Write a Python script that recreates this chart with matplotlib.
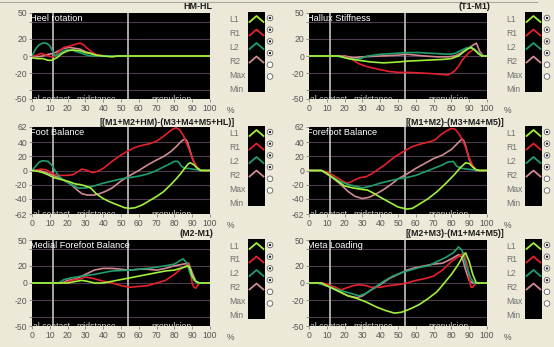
import matplotlib.pyplot as plt
from matplotlib.patches import Rectangle, Circle
from matplotlib.lines import Line2D
import matplotlib.transforms as mtrans
plt.switch_backend('Agg')

plt.rcParams['font.family'] = ['Liberation Sans', 'DejaVu Sans']

W, H = 554, 347
BG = '#ece9d8'
COLORS = {'L1': '#a2f03c', 'R1': '#e6202c', 'L2': '#1f9e6e', 'R2': '#d08a92'}
SERIES = ['L1', 'R1', 'L2', 'R2', 'Max', 'Min']
XTICKS = [0, 10, 20, 30, 40, 50, 60, 70, 80, 90, 100]
PHASES = [(0.5, 'al contact'), (25, 'midstance'), (67, 'propulsion')]
PHASE_LINES = [12, 54]

# (x %, value)
HEEL_L1 = [(0, -2), (3, -3), (6, -3), (9, -5), (11, -5), (14, -2), (17, 3), (20, 6), (23, 7), (27, 6),
           (30, 4), (33, 3), (36, 1), (40, 0), (45, -1), (48, 0), (100, 0)]
HEEL_R1 = [(0, 0), (3, 1), (5, 3), (8, 1), (11, -1), (13, 0), (15, 5), (18, 10), (22, 12), (25, 14),
           (27, 15), (29, 13), (31, 9), (34, 4), (37, 1), (42, 0), (100, 0)]
HEEL_L2 = [(0, 0), (2, 8), (4, 13), (6, 15), (8, 15), (10, 12), (12, 4), (13, 0), (15, 2), (17, 5),
           (19, 7), (22, 7), (25, 5), (28, 3), (31, 1), (34, 0), (100, 0)]
HEEL_R2 = [(0, 0), (3, -1), (6, 0), (9, 2), (12, 3), (15, 6), (18, 9), (21, 10), (24, 9), (27, 8),
           (30, 5), (33, 3), (36, 1), (40, 0), (100, 0)]

HALLUX_L1 = [(0, 0), (17, 0), (22, -3), (28, -5), (35, -7), (42, -8), (50, -7), (55, -6), (65, -5),
             (75, -4), (80, -3), (84, 0), (87, 5), (89, 8), (91, 10), (93, 7), (95, 3), (97, 0), (100, 0)]
HALLUX_R1 = [(0, 0), (18, 0), (22, -2), (25, -5), (28, -9), (32, -12), (38, -15), (45, -18), (50, -19),
             (55, -19), (65, -20), (72, -21), (78, -22), (80, -20), (82, -17), (84, -12), (86, -5),
             (88, 0), (90, 4), (92, 7), (93, 8), (95, 4), (97, 0), (100, 0)]
HALLUX_L2 = [(0, 0), (15, 0), (20, -2), (25, -4), (29, -3), (33, 0), (40, 2), (48, 3), (55, 4), (62, 4),
             (70, 3), (78, 2), (82, 3), (85, 6), (88, 9), (90, 10), (92, 9), (94, 6), (96, 2), (98, 0),
             (100, 0)]
HALLUX_R2 = [(0, 0), (20, 0), (25, -2), (30, -1), (40, 0), (50, 1), (55, 2), (60, 1), (65, 0), (72, -1),
             (78, -1), (82, 0), (85, 3), (88, 7), (91, 11), (94, 15), (95, 10), (96, 5), (98, 0), (100, 0)]

FOOT_L1 = [(0, 0), (3, -1), (6, -3), (9, -6), (12, -10), (15, -12), (18, -14), (21, -16), (24, -19),
           (27, -20), (30, -22), (33, -25), (36, -33), (40, -40), (44, -45), (48, -49), (52, -53),
           (55, -54), (58, -53), (62, -49), (66, -43), (70, -37), (74, -30), (78, -20), (81, -12),
           (84, -3), (86, 4), (88, 10), (89, 11), (91, 8), (93, 3), (95, 0), (100, 0)]
FOOT_R1 = [(0, 0), (3, 1), (5, 2), (8, 1), (10, -2), (13, -6), (16, -7), (20, -7), (23, -6), (25, -3),
           (28, 2), (30, 1), (32, -1), (34, -3), (37, -1), (40, 3), (43, 9), (46, 15), (50, 22), (54, 28),
           (58, 33), (62, 36), (66, 38), (70, 42), (73, 47), (76, 53), (79, 59), (81, 61), (83, 58),
           (85, 50), (87, 38), (89, 25), (91, 12), (93, 4), (95, 0), (100, 0)]
FOOT_L2 = [(0, 0), (2, 6), (4, 12), (6, 14), (9, 13), (11, 8), (13, 0), (15, -8), (18, -14), (22, -20),
           (26, -25), (30, -25), (35, -22), (40, -18), (45, -15), (50, -12), (55, -10), (60, -8),
           (65, -5), (70, 0), (73, 4), (77, 9), (80, 13), (82, 13), (84, 6), (86, 3), (88, 3), (90, 2),
           (93, 1), (95, 0), (100, 0)]
FOOT_R2 = [(0, 0), (4, 0), (7, -2), (10, -5), (15, -10), (19, -15), (22, -20), (25, -27), (28, -33),
           (31, -35), (35, -35), (38, -33), (41, -30), (45, -25), (50, -15), (55, -7), (60, 0), (65, 8),
           (70, 15), (74, 20), (78, 27), (81, 34), (84, 42), (86, 45), (87, 42), (88, 35), (90, 18),
           (92, 6), (94, 0), (100, 0)]

FORE_L1 = [(0, 0), (7, 0), (10, -4), (12, -8), (16, -15), (20, -22), (25, -25), (30, -27), (33, -28),
           (36, -32), (40, -38), (45, -45), (50, -52), (55, -55), (58, -54), (62, -48), (67, -40),
           (72, -30), (77, -18), (82, -5), (85, 4), (88, 11), (90, 10), (92, 5), (94, 1), (96, 0), (100, 0)]
FORE_R1 = [(0, 0), (7, 0), (10, -2), (13, -6), (17, -12), (21, -18), (23, -17), (26, -13), (29, -10),
           (32, -9), (35, -5), (38, 0), (43, 9), (48, 19), (53, 27), (58, 34), (63, 38), (68, 41),
           (71, 44), (74, 51), (77, 56), (80, 60), (82, 59), (84, 53), (86, 45), (88, 33), (90, 18),
           (92, 7), (94, 1), (96, 0), (100, 0)]
FORE_L2 = [(0, 0), (7, 0), (10, -4), (13, -9), (17, -15), (22, -20), (27, -23), (30, -25), (35, -22),
           (40, -18), (45, -15), (50, -12), (55, -10), (60, -7), (65, -2), (70, 3), (75, 8), (78, 12),
           (81, 13), (83, 6), (86, 3), (89, 2), (92, 1), (95, 0), (100, 0)]
FORE_R2 = [(0, 0), (7, 0), (10, -5), (13, -10), (17, -18), (22, -30), (26, -37), (30, -40), (34, -38),
           (38, -33), (42, -27), (46, -20), (50, -12), (55, -5), (60, 3), (65, 10), (70, 17), (75, 22),
           (80, 30), (84, 40), (86, 45), (87, 42), (88, 35), (90, 16), (92, 5), (94, 0), (100, 0)]

MEDIAL_L1 = [(0, 0), (20, 0), (25, 2), (28, 3), (31, 2), (35, 0), (40, 0), (45, 2), (50, 4), (55, 6),
             (60, 8), (65, 10), (70, 12), (75, 14), (80, 15), (85, 18), (88, 20), (89, 15), (90, 8),
             (92, 2), (94, 0), (100, 0)]
MEDIAL_R1 = [(0, 0), (18, 0), (22, 3), (27, 5), (30, 7), (35, 5), (40, 2), (45, 0), (50, -3), (55, -5),
             (60, -4), (65, -3), (70, 0), (75, 3), (80, 10), (84, 17), (87, 21), (88, 22), (89, 12),
             (90, 0), (91, -5), (92, -6), (93, -3), (94, 0), (100, 0)]
MEDIAL_L2 = [(0, 0), (15, 0), (18, 4), (22, 6), (28, 8), (35, 10), (40, 12), (45, 14), (55, 15), (65, 17),
             (75, 20), (80, 22), (83, 26), (85, 28), (87, 23), (89, 10), (91, 3), (93, 0), (100, 0)]
MEDIAL_R2 = [(0, 0), (17, 0), (20, 3), (25, 5), (30, 10), (35, 15), (40, 17), (45, 17), (50, 16),
             (55, 15), (60, 16), (65, 16), (70, 15), (75, 17), (80, 20), (85, 22), (88, 23), (90, 12),
             (92, 2), (94, 0), (100, 0)]

META_L1 = [(0, 0), (7, 0), (12, -5), (17, -10), (22, -15), (27, -18), (32, -22), (38, -28), (43, -32),
           (48, -35), (52, -34), (57, -30), (62, -25), (67, -18), (72, -10), (76, 0), (80, 10), (84, 22),
           (87, 33), (88, 35), (90, 25), (92, 10), (94, 0), (100, 0)]
META_R1 = [(0, 0), (8, 0), (12, -3), (15, -5), (18, -8), (22, -5), (25, -3), (28, -2), (32, -3),
           (35, -5), (40, -5), (45, -3), (50, -2), (55, 0), (60, 3), (65, 5), (70, 8), (75, 15), (80, 25),
           (85, 32), (87, 35), (89, 20), (90, 5), (91, -5), (92, -5), (93, -2), (94, 0), (100, 0)]
META_L2 = [(0, 0), (5, 0), (10, -3), (15, -7), (20, -10), (25, -13), (28, -15), (32, -12), (37, -5),
           (42, 2), (47, 8), (52, 12), (57, 15), (62, 18), (67, 20), (72, 25), (77, 30), (81, 35),
           (84, 42), (86, 38), (88, 22), (91, 5), (93, 0), (100, 0)]
META_R2 = [(0, 0), (5, 0), (12, -5), (17, -10), (22, -15), (27, -17), (30, -15), (35, -8), (40, -2),
           (45, 5), (50, 10), (55, 15), (60, 18), (65, 20), (70, 22), (75, 23), (80, 28), (84, 33),
           (86, 30), (88, 15), (90, 3), (92, 0), (100, 0)]

YT_50 = ([50, 40, 20, 0, -20, -40, -50], ['50', '', '20', '0', '-20', '', '-50'])
YT_62 = ([62, 40, 20, 0, -20, -40, -62], ['62', '40', '20', '0', '-20', '-40', '-62'])

# title, formula, formula right edge (px), formula y (px), y range, ticks, curves
PANELS = [
    ('Heel rotation', 'HM-HL', 212, 6, 50, YT_50,
     {'L1': HEEL_L1, 'R1': HEEL_R1, 'L2': HEEL_L2, 'R2': HEEL_R2}),
    ('Hallux Stiffness', '(T1-M1)', 490, 6, 50, YT_50,
     {'L1': HALLUX_L1, 'R1': HALLUX_R1, 'L2': HALLUX_L2, 'R2': HALLUX_R2}),
    ('Foot Balance', '[(M1+M2+HM)-(M3+M4+M5+HL)]', 235, 122, 62, YT_62,
     {'L1': FOOT_L1, 'R1': FOOT_R1, 'L2': FOOT_L2, 'R2': FOOT_R2}),
    ('Forefoot Balance', '[(M1+M2)-(M3+M4+M5)]', 504, 122, 62, YT_62,
     {'L1': FORE_L1, 'R1': FORE_R1, 'L2': FORE_L2, 'R2': FORE_R2}),
    ('Medial Forefoot Balance', '(M2-M1)', 213, 233, 50, YT_50,
     {'L1': MEDIAL_L1, 'R1': MEDIAL_R1, 'L2': MEDIAL_L2, 'R2': MEDIAL_R2}),
    ('Meta Loading', '[(M2+M3)-(M1+M4+M5)]', 504, 233, 50, YT_50,
     {'L1': META_L1, 'R1': META_R1, 'L2': META_L2, 'R2': META_R2}),
]

COL_LEFT = [32, 309]
ROW_TOP = [13, 127, 240]
ROW_H = [86, 87, 86]
AX_W = 178


def px_rect(left, top, w, h):
    return [left / W, 1 - (top + h) / H, w / W, h / H]


fig = plt.figure(figsize=(W / 100, H / 100), dpi=100, facecolor=BG)

over = fig.add_axes([0, 0, 1, 1], zorder=5)
over.set_xlim(0, W)
over.set_ylim(H, 0)
over.axis('off')
over.patch.set_alpha(0)
over.plot([0, 537], [2, 2], color='#a8a8a0', lw=0.8)

for i, (title, formula, fx, fy, lim, (yt, ytl), curves) in enumerate(PANELS):
    row, col = divmod(i, 2)
    left, top, h = COL_LEFT[col], ROW_TOP[row], ROW_H[row]
    ax = fig.add_axes(px_rect(left, top, AX_W, h))
    ax.set_facecolor('black')
    for s in ax.spines.values():
        s.set_visible(False)
    ax.set_xlim(0, 100)
    ax.set_ylim(-lim, lim)
    for g in [40, 20, 0, -20, -40]:
        ax.axhline(g, color='#4e3c4e', lw=0.8, zorder=1)
    for v in PHASE_LINES:
        ax.axvline(v, color='#b4b4b4', lw=1.3, zorder=2)
    for name in ['R2', 'R1', 'L2', 'L1']:
        xs = [p[0] for p in curves[name]]
        ys = [p[1] for p in curves[name]]
        ax.plot(xs, ys, color=COLORS[name], lw=1.2, zorder=3)
    ax.set_xticks(XTICKS)
    ax.set_yticks(yt)
    ax.set_yticklabels(ytl)
    ax.tick_params(colors='#808080', labelcolor='#555555', labelsize=6.2, length=2, width=0.6, pad=1.5)
    ax.text(-0.01, 0.985, title, transform=ax.transAxes, color='white', fontsize=6.6,
            va='top', ha='left', zorder=4)
    tr = mtrans.blended_transform_factory(ax.transData, ax.transAxes)
    for px, lab in PHASES:
        ax.text(px, -0.01, lab, transform=tr, color='#d0d0d0', fontsize=6.2, va='center',
                ha='left', clip_on=True, zorder=4)

    # formula above the panel and the % unit
    over.text(fx, fy, formula, color='#1c1c1c', fontsize=6.4, ha='right', va='center',
              fontweight='bold')
    over.text(left + AX_W + 17, top + h + 11, '%', color='#555555', fontsize=6.2,
              ha='left', va='center')

    # legend block: labels, black box with chevrons, radio buttons
    lx = left + 197
    for k, name in enumerate(SERIES):
        over.text(lx, top + 6 + 14 * k, name, color='#707070', fontsize=6.2, ha='left',
                  va='center')
    bx = left + 216
    over.add_patch(Rectangle((bx, top - 1), 17, 80, facecolor='black', edgecolor='none'))
    for k, name in enumerate(SERIES[:4]):
        py = top + 3 + 13.5 * k
        over.add_line(Line2D([bx + 1.5, bx + 8.5, bx + 15.5], [py + 6, py, py + 6],
                             color=COLORS[name], lw=1.3))
    rx = left + 238
    for k in range(6):
        ry = top + 5 + 11.7 * k
        over.add_patch(Circle((rx, ry), 2.8, facecolor='white', edgecolor='#606060', lw=0.6))
        if k < 4:
            over.add_patch(Circle((rx, ry), 1.2, facecolor='#202020', edgecolor='none'))

fig.savefig('out.png', dpi=100, facecolor=BG)
